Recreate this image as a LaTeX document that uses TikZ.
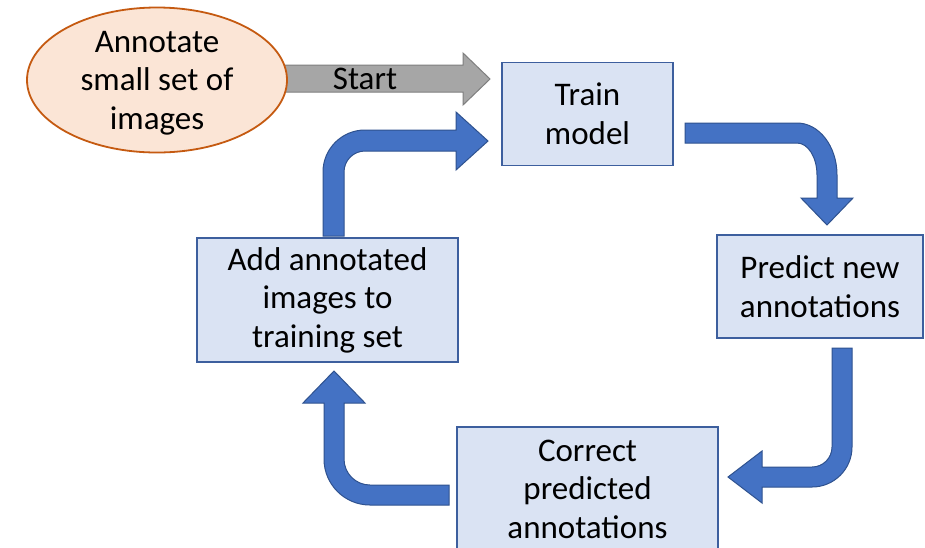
\documentclass[tikz,border=0pt]{standalone}
\usepackage{fontspec}
\setmainfont{Carlito}
\definecolor{boxfill}{HTML}{DAE3F3}
\definecolor{boxline}{HTML}{3D5F9E}
\definecolor{ellfill}{HTML}{FBE5D6}
\definecolor{ellline}{HTML}{C55A11}
\definecolor{arrfill}{HTML}{4472C4}
\definecolor{arrline}{HTML}{2F528F}
\definecolor{grayfill}{HTML}{A6A6A6}
\definecolor{grayline}{HTML}{7F7F7F}
\usetikzlibrary{shapes.geometric}
\tikzset{
  txt/.style={font=\fontsize{33}{38.5}\selectfont, align=center, text=black},
  stepbox/.style={txt, draw=boxline, fill=boxfill, line width=1.8pt, inner sep=0pt},
  startell/.style={txt, ellipse, draw=ellline, fill=ellfill, line width=1.8pt, inner sep=0pt},
  bluearrow/.style={fill=arrfill, draw=arrline, line width=1pt, line join=miter},
  grayarrow/.style={fill=grayfill, draw=grayline, line width=1pt, line join=miter}
}
\begin{document}
\begin{tikzpicture}[x=1pt,y=-1pt]
\useasboundingbox (0,0) rectangle (925,547);
\clip (0,0) rectangle (925,547);
\fill[white] (0,0) rectangle (925,547);

% start arrow (gray)
\draw[grayarrow] (270,65) -- (463,65) -- (463,53) -- (490,79) -- (463,105) -- (463,92) -- (270,92) -- cycle;
\node[txt] (start) at (365,79) {Start};

% ellipse
\node[startell, minimum width=260pt, minimum height=145pt, text depth=0pt] (ann) at (157,80) {Annotate\\small set of\\images};

% boxes
\node[stepbox, minimum width=171pt, minimum height=103pt] (train) at (587.5,114) {Train\\model};
\node[stepbox, minimum width=206pt, minimum height=103pt] (predict) at (820,286.5) {Predict new\\annotations};
\node[stepbox, minimum width=261pt, minimum height=124pt] (add) at (327.5,300) {Add annotated\\images to\\training set};
\node[stepbox, minimum width=261pt, minimum height=124pt] (correct) at (587.5,489) {Correct\\predicted\\annotations};

% A1: add -> train
\draw[bluearrow] (323,236) -- (323,172) .. controls (323,148.8) and (341.8,130) .. (365,130)
  -- (456,130) -- (456,112) -- (488,141) -- (456,170) -- (456,151) -- (365,151)
  .. controls (353.4,151) and (344,160.4) .. (344,172) -- (344,236) -- cycle;

% A2: train -> predict
\draw[bluearrow] (685,123) -- (797,123) .. controls (819.1,123) and (837,146.3) .. (837,175)
  -- (837,198) -- (853,198) -- (827,225) -- (801,198) -- (817,198) -- (817,175)
  .. controls (817,157.3) and (808.05,143) .. (797,143) -- (685,143) -- cycle;

% A3: predict -> correct
\draw[bluearrow] (832,348) -- (852,348) -- (852,447) .. controls (852,469.1) and (834.1,487) .. (812,487)
  -- (762,487) -- (762,503) -- (728,477) -- (762,451) -- (762,467) -- (812,467)
  .. controls (823.05,467) and (832,458.05) .. (832,447) -- cycle;

% A4: correct -> add
\draw[bluearrow] (449,505) -- (370,505) .. controls (344.6,505) and (324,484.4) .. (324,459)
  -- (324,403) -- (303,403) -- (334,371) -- (365,403) -- (344,403) -- (344,459)
  .. controls (344,473.36) and (355.64,485) .. (370,485) -- (449,485) -- cycle;
\end{tikzpicture}
\end{document}
